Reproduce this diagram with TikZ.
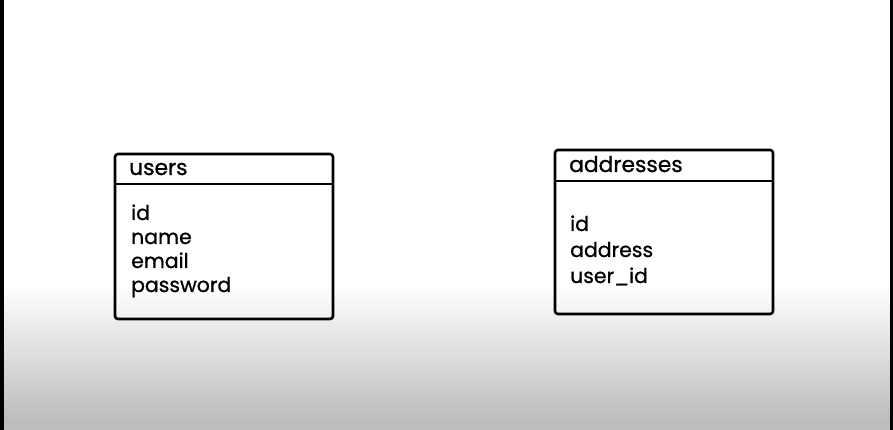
\documentclass[tikz,border=0pt]{standalone}
\usepackage{fontspec}
\setmainfont[FakeBold=0]{Poppins}
\newfontfamily\tablefont[FakeBold=0.9]{Poppins}
\tikzset{x=1pt,y=1pt}
\tikzstyle{table}=[draw, black, line width=2.6pt, rounded corners=3pt]
\tikzstyle{sep}=[draw, black, line width=2.6pt]
\tikzstyle{title}=[anchor=base west, inner sep=0pt, font=\tablefont\fontsize{21.8}{24}\selectfont]
\tikzstyle{field}=[anchor=base west, inner sep=0pt, font=\tablefont\fontsize{20.4}{24}\selectfont]

\begin{document}
\begin{tikzpicture}
			\useasboundingbox (0,0) rectangle (893,430);
			% background
			\fill[white] (0,0) rectangle (893,430);
			\shade[top color=white, bottom color=black!27] (0,5) rectangle (893,145);
			\fill[black!25] (0,0) rectangle (893,5);
			\fill[black] (0,0) rectangle (3.5,430);
			\fill[black] (890,0) rectangle (893,430);

			% users
			\draw[table] (115,111) rectangle (333,276);
			\draw[sep] (115,246) -- (333,246);
			\node[title] (users) at (129,255) {users};
			\node[field] (uid) at (131,210) {id};
			\node[field] (uname) at (131,186) {name};
			\node[field] (uemail) at (131,162) {email};
			\node[field] (upass) at (131,138) {password};

			% addresses
			\draw[table] (555,116) rectangle (773,280);
			\draw[sep] (555,249) -- (773,249);
			\node[title] (addresses) at (569,258) {addresses};
			\node[field] (aid) at (570,199) {id};
			\node[field] (aaddr) at (570,173) {address};
			\node[field] (auser) at (570,147) {user\_id};
		\end{tikzpicture}
\end{document}
